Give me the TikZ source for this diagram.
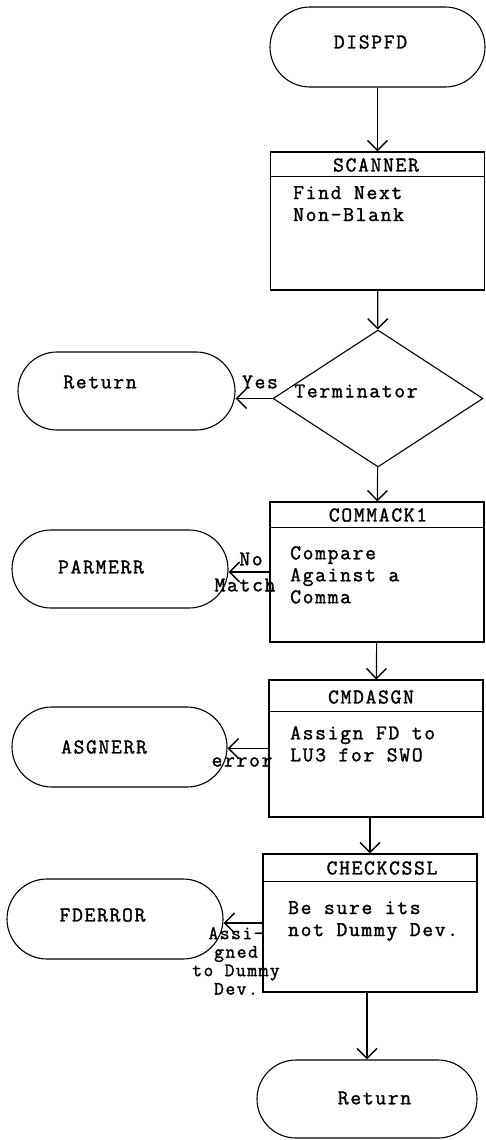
\documentclass[tikz,border=0pt]{standalone}
\usepackage{fontspec}
\newfontfamily\twfont[LetterSpace=8,FakeBold=1.5]{Latin Modern Mono}
\usepackage{tikz}
\usetikzlibrary{shapes,arrows.meta,positioning,calc}

\begin{document}
\begin{tikzpicture}[
    x=1pt, y=-1pt,
    every node/.style={font=\twfont\fontsize{21}{22}\selectfont, inner sep=0pt},
    term/.style={rounded rectangle, draw, line width=1.1pt, minimum width=216pt, minimum height=79pt},
    proc/.style={rectangle, draw, line width=1.1pt, minimum width=214pt},
    dec/.style={diamond, draw, line width=1.1pt, minimum width=210pt, minimum height=137pt},
    body/.style={anchor=north west, align=left},
    hline/.style={line width=1.1pt},
    arr/.style={line width=1.1pt, -{Straight Barb[length=10pt,width=20pt,line width=1.4pt]}}
]
\useasboundingbox (0,0) rectangle (486,1140);

% DISPFD entry
\node (dispfd) at (377.5,47) [term, minimum width=215pt, minimum height=80pt] {};
\node (dispfdt) at (370.5,42) {DISPFD};

% SCANNER
\node (scanner) at (377.5,221) [proc, minimum height=138pt] {};
\draw[hline] ($(scanner.north west)+(0,25)$) -- ($(scanner.north east)+(0,25)$);
\node (scannerh) at (376,165) {SCANNER};
\node (scannerb) at (293,186) [body] {Find Next\\Non-Blank};

% Terminator test
\node (termchk) at (378,398.5) [dec] {};
\node (termchkt) at (356,391) {Terminator};
\node (ret1) at (126.5,391) [term, minimum width=217pt, minimum height=78pt] {};
\node (ret1t) at (100,382) {Return};
\node (yes) at (260,382) {Yes};

% COMMACK1
\node (commack1) at (377,572) [proc, minimum height=140pt] {};
\draw[hline] ($(commack1.north west)+(0,26)$) -- ($(commack1.north east)+(0,26)$);
\node (commack1h) at (378,515) {COMMACK1};
\node (commack1b) at (290,546) [body] {Compare\\Against a\\Comma};
\node (parmerr) at (120,569) [term, minimum height=78pt] {};
\node (parmerrt) at (101,567) {PARMERR};
\node (no) at (251,559) {No};
\node (match) at (245,585) {Match};

% CMDASGN
\node (cmdasgn) at (376,748.5) [proc, minimum height=137pt] {};
\draw[hline] ($(cmdasgn.north west)+(0,32)$) -- ($(cmdasgn.north east)+(0,32)$);
\node (cmdasgnh) at (371,697) {CMDASGN};
\node (cmdasgnb) at (290,726) [body] {Assign FD to\\LU3 for SWO};
\node (asgnerr) at (119.5,747) [term, minimum width=215pt, minimum height=80pt] {};
\node (asgnerrt) at (104,747) {ASGNERR};
\node (err) at (242,762) {error};

% CHECKCSSL
\node (checkcssl) at (370,923) [proc, minimum height=138pt] {};
\draw[hline] ($(checkcssl.north west)+(0,28)$) -- ($(checkcssl.north east)+(0,28)$);
\node (checkcsslh) at (382,868) {CHECKCSSL};
\node (checkcsslb) at (288,901) [body] {Be sure its\\not Dummy Dev.};
\node (fderror) at (115,919) [term, minimum height=80pt] {};
\node (fderrort) at (102.5,915) {FDERROR};
\node (dummy) at (236,961) [align=center, font=\twfont\fontsize{19}{18.5}\selectfont] {Assi-\\gned\\to Dummy\\Dev.};

% exit
\node (ret2) at (367,1099) [term, minimum width=220pt, minimum height=78pt] {};
\node (ret2t) at (374.5,1098) {Return};

% main flow
\draw[arr] (dispfd) -- (scanner);
\draw[arr] (scanner) -- (termchk);
\draw[arr] (termchk) -- (commack1);
\draw[arr] (commack1) -- (cmdasgn);
\draw[arr] (checkcssl.north |- cmdasgn.south) -- (checkcssl);
\draw[arr] (ret2.north |- checkcssl.south) -- (ret2);

% exits to the left
\draw[arr] (termchk.west) -- (termchk.west -| ret1.east);
\draw[arr] (commack1.west) -- (commack1.west -| parmerr.east);
\draw[arr] (cmdasgn.west) -- (cmdasgn.west -| asgnerr.east);
\draw[arr] (checkcssl.west) -- (checkcssl.west -| fderror.east);

\end{tikzpicture}
\end{document}
